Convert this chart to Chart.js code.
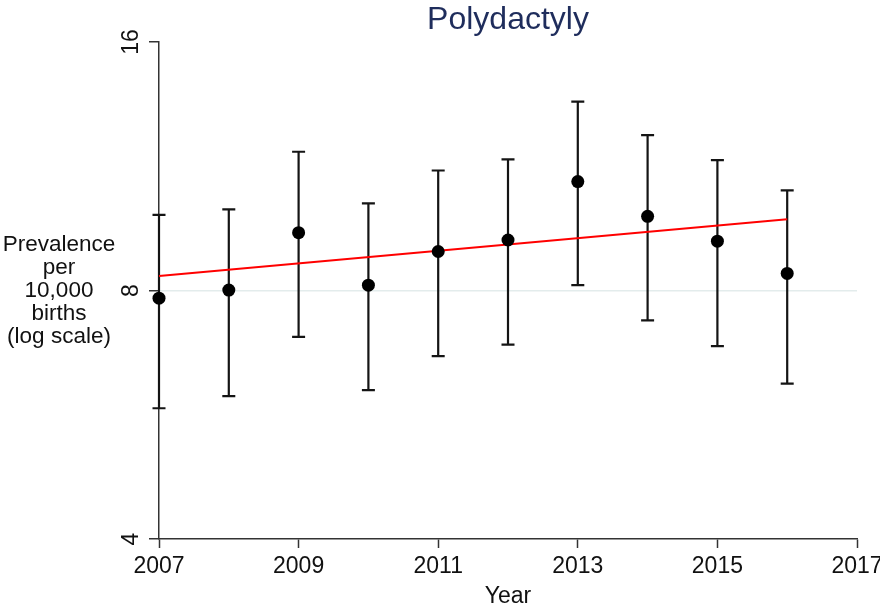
<!DOCTYPE html>
<html>
<head>
<meta charset="utf-8">
<script src="https://cdn.jsdelivr.net/npm/chart.js@4/dist/chart.umd.min.js"></script>
<style>
  html, body { margin: 0; padding: 0; background: #ffffff; }
  #wrap { width: 880px; height: 607px; }
</style>
</head>
<body>
<div id="wrap"><canvas id="c" width="880" height="607"></canvas></div>
<script>
// ---- data ----
const chartTitle = 'Polydactyly';
const years = [2007, 2008, 2009, 2010, 2011, 2012, 2013, 2014, 2015, 2016];
const prevalence = [7.83, 8.01, 9.40, 8.12, 8.92, 9.21, 10.84, 9.84, 9.18, 8.39];
const ciLower = [5.76, 5.96, 7.03, 6.06, 6.66, 6.88, 8.12, 7.36, 6.85, 6.17];
const ciUpper = [9.88, 10.03, 11.78, 10.20, 11.18, 11.53, 13.55, 12.34, 11.51, 10.58];
const trendYears = [2007, 2016];
const trendValues = [8.33, 9.76];
const xTicks = [2007, 2009, 2011, 2013, 2015, 2017];
const yTicks = [4, 8, 16];
const yAxisLabel = ['Prevalence', 'per', '10,000', 'births', '(log scale)'];
const xAxisLabel = 'Year';

const FONT = '"Liberation Sans", Arial, Helvetica, sans-serif';

const errorBars = {
  id: 'errorBars',
  beforeDatasetsDraw(chart) {
    const ctx = chart.ctx, xs = chart.scales.x, ys = chart.scales.y;
    ctx.save();
    ctx.strokeStyle = '#141414';
    ctx.lineWidth = 2.2;
    ctx.lineCap = 'butt';
    years.forEach((yr, i) => {
      const x = xs.getPixelForValue(yr);
      const yt = ys.getPixelForValue(ciUpper[i]);
      const yb = ys.getPixelForValue(ciLower[i]);
      ctx.beginPath();
      ctx.moveTo(x, yt); ctx.lineTo(x, yb);
      ctx.moveTo(x - 6.5, yt); ctx.lineTo(x + 6.5, yt);
      ctx.moveTo(x - 6.5, yb); ctx.lineTo(x + 6.5, yb);
      ctx.stroke();
    });
    ctx.restore();
  }
};

const texts = {
  id: 'texts',
  afterDraw(chart) {
    const ctx = chart.ctx;
    const area = chart.chartArea;
    ctx.save();
    // title
    ctx.fillStyle = '#1f2d5c';
    ctx.font = '32px ' + FONT;
    ctx.textAlign = 'center';
    ctx.textBaseline = 'alphabetic';
    ctx.fillText(chartTitle, (area.left + area.right) / 2, 29);
    // y axis label
    ctx.fillStyle = '#111111';
    ctx.font = '22.5px ' + FONT;
    ctx.textBaseline = 'middle';
    const yMid = chart.scales.y.getPixelForValue(8);
    yAxisLabel.forEach((t, i) => {
      ctx.fillText(t, 59, yMid + (i - 2) * 23);
    });
    ctx.restore();
  }
};

new Chart(document.getElementById('c'), {
  type: 'scatter',
  data: {
    datasets: [
      {
        type: 'line',
        label: 'Trend',
        data: trendYears.map((x, i) => ({ x: x, y: trendValues[i] })),
        borderColor: '#ff0000',
        borderWidth: 2,
        pointRadius: 0,
        fill: false,
        clip: false,
        order: 2
      },
      {
        label: 'Prevalence',
        data: years.map((x, i) => ({ x: x, y: prevalence[i] })),
        backgroundColor: '#000000',
        borderColor: '#000000',
        pointRadius: 6.5,
        pointBorderWidth: 0,
        clip: false,
        order: 1
      }
    ]
  },
  options: {
    responsive: false,
    animation: false,
    devicePixelRatio: 1,
    layout: { padding: { left: 0, right: 23, top: 42, bottom: 0 } },
    plugins: {
      legend: { display: false },
      title: { display: false },
      tooltip: { enabled: false }
    },
    scales: {
      x: {
        type: 'linear',
        min: 2007,
        max: 2017,
        afterBuildTicks(scale) { scale.ticks = xTicks.map(v => ({ value: v })); },
        afterFit(scale) { scale.height = 68; scale.paddingLeft = 0; scale.paddingRight = 0; },
        ticks: {
          font: { family: FONT, size: 23 },
          color: '#111111',
          padding: 5,
          maxRotation: 0,
          minRotation: 0,
          callback: v => String(v)
        },
        grid: {
          drawOnChartArea: false,
          drawTicks: true,
          tickLength: 9,
          tickColor: '#333333',
          tickWidth: 1.5
        },
        border: { display: true, color: '#333333', width: 1.5 },
        title: {
          display: true,
          text: xAxisLabel,
          font: { family: FONT, size: 23 },
          color: '#111111',
          padding: { top: 0, bottom: -3 }
        }
      },
      y: {
        type: 'logarithmic',
        min: 4,
        max: 16,
        afterBuildTicks(scale) { scale.ticks = yTicks.map(v => ({ value: v, major: false })); },
        afterFit(scale) { scale.width = 159; scale.paddingTop = 0; scale.paddingBottom = 0; },
        ticks: {
          font: { family: FONT, size: 23 },
          color: '#111111',
          padding: 5,
          minRotation: 90,
          maxRotation: 90,
          crossAlign: 'center',
          callback: v => String(v)
        },
        grid: {
          drawOnChartArea: true,
          drawTicks: true,
          tickLength: 10,
          color: ctx => (ctx.tick && ctx.tick.value === 8) ? '#e3ecec' : 'rgba(0,0,0,0)',
          lineWidth: 1.5,
          tickColor: '#333333',
          tickWidth: 1.5
        },
        border: { display: true, color: '#333333', width: 1.5 }
      }
    }
  },
  plugins: [errorBars, texts]
});
</script>
</body>
</html>
